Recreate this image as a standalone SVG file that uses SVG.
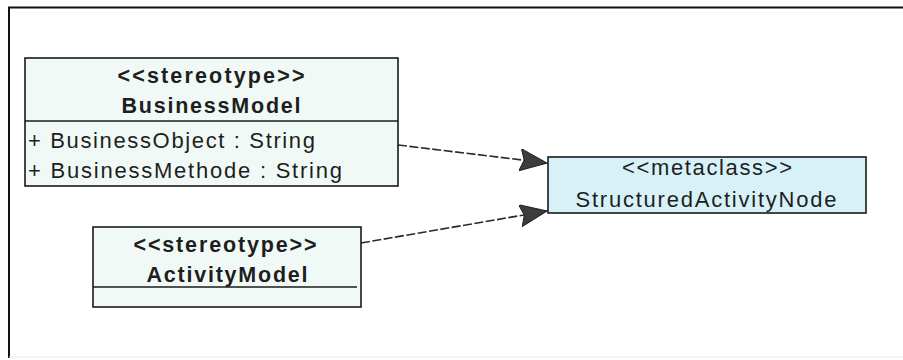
<svg xmlns="http://www.w3.org/2000/svg" width="903" height="360" viewBox="0 0 903 360">
  <style>
    .box { stroke: #1a1a1a; stroke-width: 1.6; }
    .stereo { fill: #f1f9f6; }
    .meta { fill: #d6f2f8; }
    .sep { stroke: #1a1a1a; stroke-width: 1.6; }
    text { font-family: "Liberation Sans", Arial, sans-serif; fill: #1e1e1e; }
    .hdr { font-size: 21.5px; font-weight: bold; text-anchor: middle; }
    .attr { font-size: 22px; }
    .mc { font-size: 22px; text-anchor: middle; }
    .dep { stroke: #2a2a2a; stroke-width: 1.6; stroke-dasharray: 9 2.5; fill: none; }
  </style>
  <defs>
    <marker id="head" markerUnits="userSpaceOnUse" markerWidth="30" markerHeight="24" refX="27" refY="11" orient="auto">
      <path d="M0,0 L27,11 L0,22 L4,11 Z" fill="#3c3c3e" stroke="#222" stroke-width="1"/>
    </marker>
  </defs>

  <rect width="903" height="360" fill="#ffffff"/>

  <!-- outer frame -->
  <g id="frame">
    <line x1="8" y1="7.5" x2="903" y2="7.5" stroke="#111" stroke-width="2.2"/>
    <line x1="9" y1="7" x2="9" y2="358" stroke="#111" stroke-width="2"/>
    <line x1="9" y1="357" x2="903" y2="357" stroke="#ececec" stroke-width="1.2"/>
  </g>

  <!-- dependency connectors -->
  <g id="connectors">
    <line class="dep" x1="398" y1="145" x2="547" y2="163" marker-end="url(#head)"/>
    <line class="dep" x1="361" y1="243" x2="547" y2="211" marker-end="url(#head)"/>
  </g>

  <g id="BusinessModel">
    <rect class="box stereo" x="25" y="58" width="373" height="128"/>
    <line class="sep" x1="25" y1="121" x2="398" y2="121"/>
    <text class="hdr" x="211" y="83" textLength="187" lengthAdjust="spacing">&lt;&lt;stereotype&gt;&gt;</text>
    <text class="hdr" x="211" y="113" textLength="179" lengthAdjust="spacing">BusinessModel</text>
    <text class="attr" x="28" y="148" textLength="287" lengthAdjust="spacing">+ BusinessObject : String</text>
    <text class="attr" x="28" y="178" textLength="314" lengthAdjust="spacing">+ BusinessMethode : String</text>
  </g>

  <g id="ActivityModel">
    <rect class="box stereo" x="93" y="227" width="268" height="80"/>
    <line class="sep" x1="93" y1="287" x2="357" y2="287"/>
    <text class="hdr" x="225" y="252" textLength="183" lengthAdjust="spacing">&lt;&lt;stereotype&gt;&gt;</text>
    <text class="hdr" x="227" y="282" textLength="161" lengthAdjust="spacing">ActivityModel</text>
  </g>

  <g id="StructuredActivityNode">
    <rect class="box meta" x="548" y="157" width="318" height="56"/>
    <text class="mc" x="707" y="175" textLength="170" lengthAdjust="spacing">&lt;&lt;metaclass&gt;&gt;</text>
    <text class="mc" x="706" y="207" textLength="261" lengthAdjust="spacing">StructuredActivityNode</text>
  </g>
</svg>
